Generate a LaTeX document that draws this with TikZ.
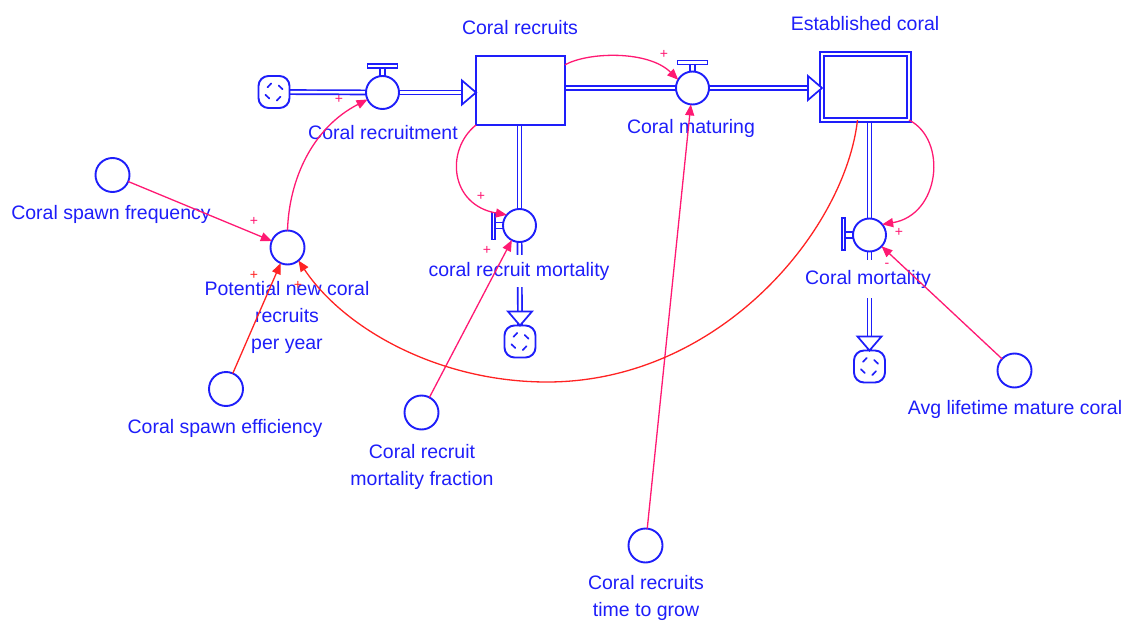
\documentclass[tikz,border=0pt]{standalone}
\usepackage{fontspec}
\setmainfont{Liberation Sans}
\usetikzlibrary{arrows.meta,calc,backgrounds}
\definecolor{flowblue}{RGB}{30,30,250}
\definecolor{linkpink}{RGB}{255,25,115}
\definecolor{linkred}{RGB}{255,35,35}

\tikzset{
  pipehead/.pic={\draw[flowblue, line width=1.7pt, fill=white, line join=miter]
    (-14pt,-12pt) -- (0pt,0pt) -- (-14pt,12pt) -- cycle;}
}

\begin{document}
\begin{tikzpicture}[x=1pt,y=-1pt,
  every node/.style={inner sep=0pt, outer sep=0pt},
  lbl/.style={text=flowblue, font=\fontsize{19.5}{27}\selectfont, align=center},
  flowlbl/.style={lbl, fill=white, inner xsep=1pt, inner ysep=7pt},
  stockbox/.style={draw=flowblue, line width=1.9pt, fill=white, rectangle,
    minimum width=89pt, minimum height=69pt},
  stockdouble/.style={draw=flowblue, line width=1.7pt, double=white, double distance=2.6pt,
    fill=white, rectangle, minimum width=87pt, minimum height=66pt},
  valve/.style={draw=flowblue, line width=1.9pt, fill=white, circle, minimum size=33pt},
  aux/.style={draw=flowblue, line width=1.9pt, fill=white, circle, minimum size=34pt},
  cloud/.style={draw=flowblue, line width=1.9pt, fill=white, rectangle, rounded corners=10pt,
    minimum width=31pt, minimum height=32pt,
    path picture={
      \foreach \a in {40,130,220,310}{
        \draw[flowblue, line width=1.7pt, line cap=round]
          ([shift={(\a-22:9pt)}]path picture bounding box.center) --
          ([shift={(\a+14:8pt)}]path picture bounding box.center);
      }
    }},
  pipe/.style={draw=flowblue, line width=1.7pt, double=white, double distance=2.4pt},
  handle/.style={draw=flowblue, line width=1.7pt, fill=white},
  link/.style={draw=linkpink, line width=1.3pt, -{Triangle[length=11pt,width=9pt]}},
  redlink/.style={link, draw=linkred},
  sign/.style={text=linkpink, font=\fontsize{14}{14}\selectfont},
  redsign/.style={sign, text=linkred},
]
\useasboundingbox (0,0) rectangle (1128,621);

% stocks, flows and clouds
\node[cloud] (src) at (274,92) {};
\node[valve] (recruitment) at (382.5,92.5) {};
\node[stockbox] (recruits) at (520.5,90.5) {};
\node[valve] (maturing) at (692.5,88) {};
\node[stockdouble] (established) at (865.5,87) {};
\node[valve] (crm) at (519.5,225.5) {};
\node[cloud] (sinka) at (520,341.5) {};
\node[valve] (cm) at (869.5,235) {};
\node[cloud] (sinkb) at (869.5,366.5) {};

% auxiliaries
\node[aux] (freq) at (112.5,175) {};
\node[aux] (pot) at (287.5,247.5) {};
\node[aux] (eff) at (226,389) {};
\node[aux] (frac) at (421.5,412.5) {};
\node[aux] (time) at (645.5,545.5) {};
\node[aux] (avg) at (1014.5,370.5) {};

% labels
\node[lbl] (lrecruits) at (520,28) {Coral recruits};
\node[lbl] (lestab) at (865,24) {Established coral};
\node[lbl] (lrecruitment) at (383,133) {Coral recruitment};
\node[lbl] (lmaturing) at (691,128) {Coral maturing};
\node[flowlbl] (lcrm) at (519,271) {coral recruit mortality};
\node[flowlbl, inner ysep=10pt] (lcm) at (868,279) {Coral mortality};
\node[lbl] (lfreq) at (111,214) {Coral spawn frequency};
\node[lbl] (lpot) at (287,317) {Potential new coral\\recruits\\per year};
\node[lbl] (leff) at (225,428) {Coral spawn efficiency};
\node[lbl] (lfrac) at (422,466.5) {Coral recruit\\mortality fraction};
\node[lbl] (ltime) at (646,597.5) {Coral recruits\\time to grow};
\node[lbl] (lavg) at (1015,409) {Avg lifetime mature coral};

% pipes and valve handles
\begin{scope}[on background layer]
  \fill[white] (0,0) rectangle (1128,621);
  \draw[pipe] (src.center) -- (recruitment.center);
  \draw[pipe] (recruitment.center) -- (recruitment -| recruits.west);
  \draw[pipe] (recruits.center |- maturing) -- (maturing.center);
  \draw[pipe] (maturing.center) -- (maturing -| established.west);
  \draw[pipe] (crm |- recruits.center) -- (crm.center);
  \draw[pipe] (crm.center) -- (sinka.north);
  \draw[pipe] (cm |- established.center) -- (cm.center);
  \draw[pipe] (cm.center) -- (sinkb.north);
  % top handles
  \draw[handle] ($(recruitment.north)+(-2.5,1)$) rectangle ($(recruitment.north)+(2.5,-8)$);
  \draw[handle] ($(recruitment.north)+(-15,-8)$) rectangle ($(recruitment.north)+(15,-12)$);
  \draw[handle] ($(maturing.north)+(-2.5,1)$) rectangle ($(maturing.north)+(2.5,-7)$);
  \draw[handle] ($(maturing.north)+(-15,-7)$) rectangle ($(maturing.north)+(15,-11)$);
  % side handles
  \draw[handle] ($(crm.west)+(1,-3)$) rectangle ($(crm.west)+(-8,3)$);
  \draw[handle] ($(crm.west)+(-8,-13)$) rectangle ($(crm.west)+(-11,14)$);
  \draw[handle] ($(cm.west)+(1,-3)$) rectangle ($(cm.west)+(-8,3)$);
  \draw[handle] ($(cm.west)+(-8,-17)$) rectangle ($(cm.west)+(-11,15)$);
\end{scope}

% pipe arrowheads
\pic at (recruitment -| recruits.west) {pipehead};
\pic at (maturing -| established.west) {pipehead};
\pic[rotate=-90] at (sinka.north) {pipehead};
\pic[rotate=-90] at (sinkb.north) {pipehead};

% influence links
\draw[link] (pot.north) .. controls (289,180) and (312,128) .. (recruitment.205);
\node[sign] (s1) at (339,99) {+};
\draw[link] (recruits.30) .. controls (588,52) and (648,50) .. (maturing.150);
\node[sign] (s2) at (664,54) {+};
\draw[link] (recruits.south west) .. controls (445,150) and (450,205) .. (crm.140);
\node[sign] (s3) at (481,196) {+};
\draw[link] (frac) -- (crm);
\node[sign] (s4) at (487,250) {+};
\draw[link] (time) -- (maturing);
\draw[link] (established.south east) .. controls (948,140) and (940,215) .. (cm.40);
\node[sign] (s5) at (899,232) {+};
\draw[link] (avg) -- (cm);
\node[sign] (s6) at (887,265) {-};
\draw[redlink] ($(established.south)+(-8,0)$) .. controls (845,230) and (720,382) .. (547,382)
  .. controls (440,382) and (345,330) .. (pot.-50);
\node[redsign] (s7) at (298,285) {+};
\draw[redlink] (eff) -- (pot);
\node[redsign] (s8) at (254,275) {+};
\draw[link] (freq) -- (pot);
\node[sign] (s9) at (254,221) {+};
\end{tikzpicture}
\end{document}
